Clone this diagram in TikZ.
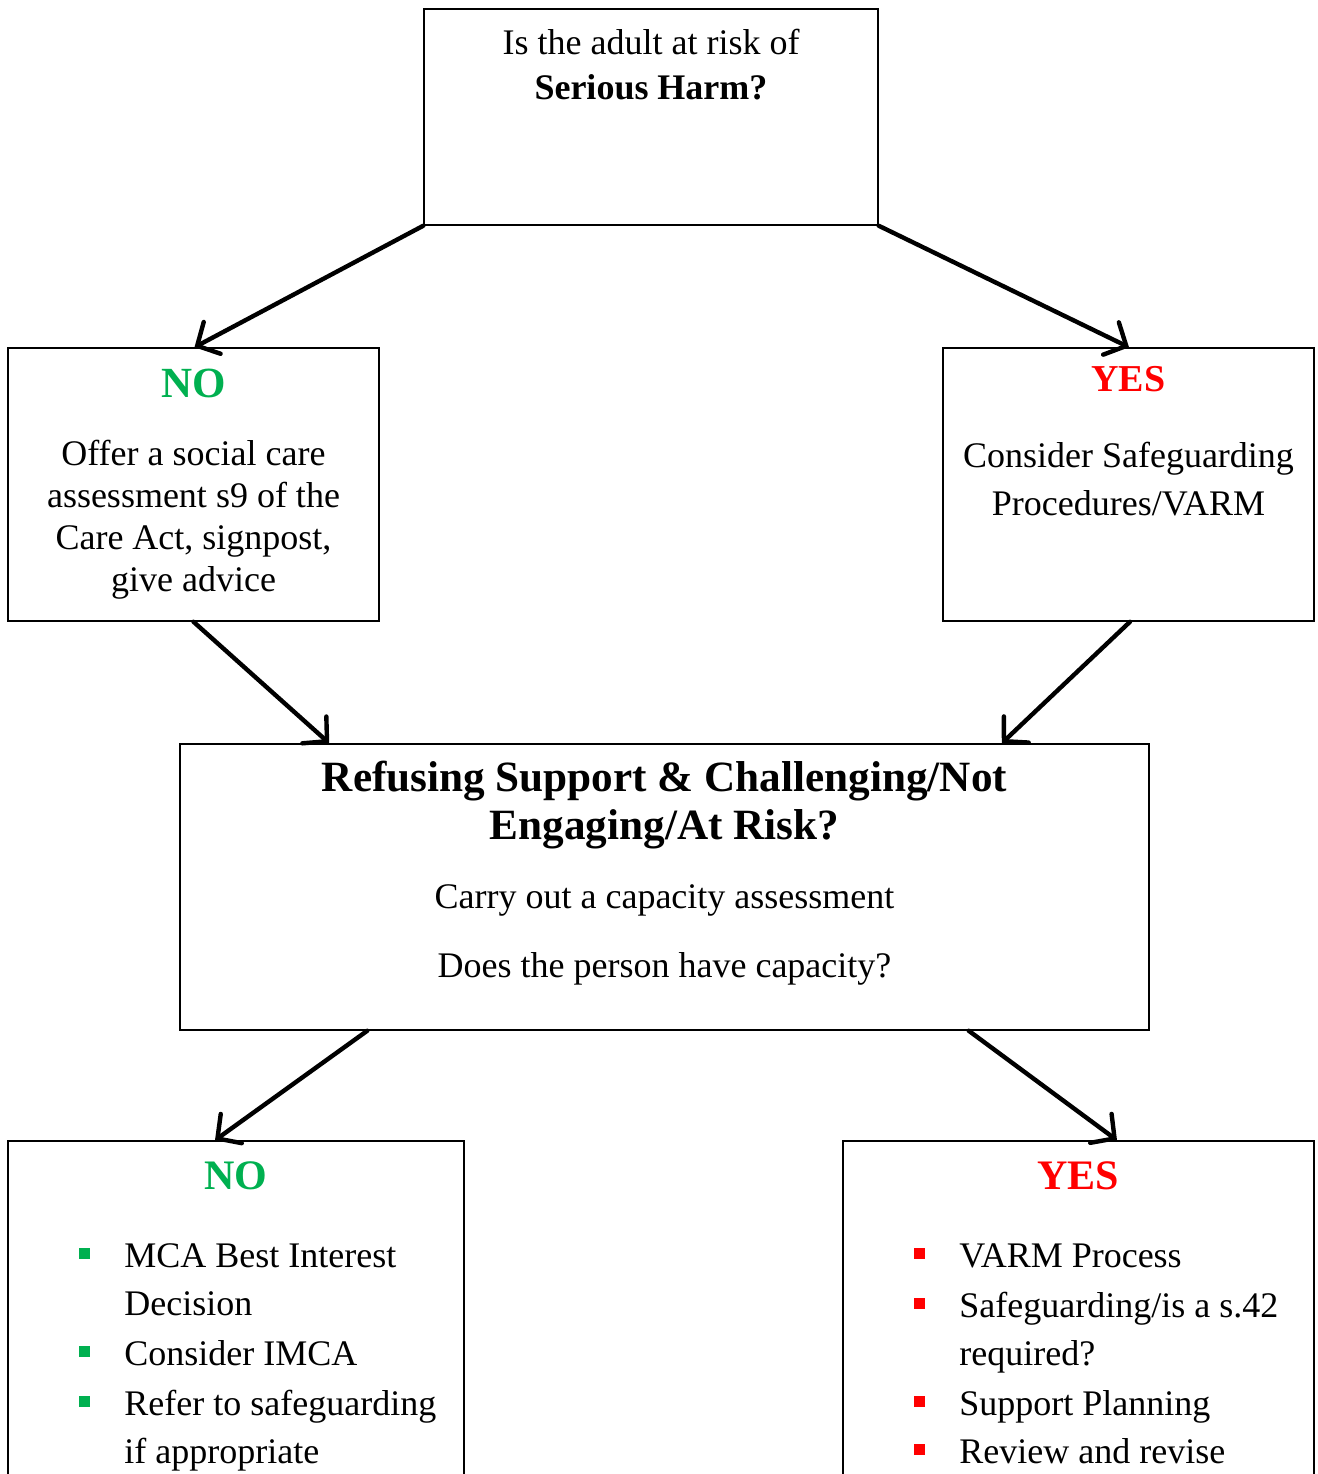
\documentclass[tikz,border=0pt]{standalone}
\usepackage{fontspec}
\setmainfont{Liberation Serif}
\usetikzlibrary{arrows.meta}
\definecolor{nogreen}{RGB}{0,176,80}
\definecolor{yesred}{RGB}{255,0,0}
\tikzset{
  box/.style={draw, line width=0.75pt, rectangle, inner sep=0pt},
  txt/.style={inner sep=0pt, anchor=base, align=center, font=\fontsize{18}{24}\selectfont},
  head/.style={inner sep=0pt, anchor=base, font=\fontsize{21}{24}\selectfont\bfseries},
  itm/.style={inner sep=0pt, anchor=base west, align=left, font=\fontsize{18}{24}\selectfont},
  sq/.style={inner sep=0pt, minimum size=5.5pt, rectangle},
  flow/.style={line width=2.2pt, line cap=round, -{Straight Barb[length=8.5pt,width=18pt,line cap=round]}}
}
\begin{document}
\begin{tikzpicture}[x=0.5pt,y=-0.5pt]
  \useasboundingbox (0,0) rectangle (1318,1474);
  \clip (0,0) rectangle (1318,1474);

  % Question box at top (multi-line texts sit on their last baseline)
  \node[box, minimum width=227pt, minimum height=108pt] (harm) at (651,117) {};
  \node[txt, font=\fontsize{18}{22.5}\selectfont] (harmq) at (651,99) {Is the adult at risk of\\\textbf{Serious Harm?}};

  % First NO box
  \node[box, minimum width=185.5pt, minimum height=136.5pt] (no) at (193.5,484.5) {};
  \node[head, text=nogreen, font=\fontsize{21.5}{24}\selectfont\bfseries] (nohead) at (193.5,397) {NO};
  \node[txt, font=\fontsize{18}{21}\selectfont] (notxt) at (193.5,591) {Offer a social care\\assessment s9 of the\\Care Act, signpost,\\give advice};

  % First YES box
  \node[box, minimum width=185.5pt, minimum height=136.5pt] (yes) at (1128.5,484.5) {};
  \node[head, text=yesred, font=\fontsize{19}{24}\selectfont\bfseries] (yeshead) at (1128.5,391) {YES};
  \node[txt] (yestxt) at (1128.5,515) {Consider Safeguarding\\Procedures/VARM};

  % Capacity box
  \node[box, minimum width=484.5pt, minimum height=143pt] (cap) at (664.5,887) {};
  \node[head, align=center, font=\fontsize{21.6}{24}\selectfont\bfseries] (caphead) at (664.5,839) {Refusing Support \& Challenging/Not\\Engaging/At Risk?};
  \node[txt] (capa) at (664.5,908) {Carry out a capacity assessment};
  \node[txt] (capb) at (664.5,977) {Does the person have capacity?};

  % Second NO box
  \node[box, minimum width=228pt, minimum height=189.5pt] (nocap) at (236,1330.5) {};
  \node[head, text=nogreen] (nocaphead) at (236,1189) {NO};
  \node[sq, fill=nogreen] (nb1) at (84.5,1253) {};
  \node[sq, fill=nogreen] (nb2) at (84.5,1351) {};
  \node[sq, fill=nogreen] (nb3) at (84.5,1401) {};
  \node[itm] (ni1) at (124,1315) {MCA Best Interest\\Decision};
  \node[itm] (ni2) at (124,1365) {Consider IMCA};
  \node[itm] (ni3) at (124,1463) {Refer to safeguarding\\if appropriate};

  % Second YES box
  \node[box, minimum width=235.5pt, minimum height=189.5pt] (yescap) at (1078.5,1330.5) {};
  \node[head, text=yesred] (yescaphead) at (1078.5,1189) {YES};
  \node[sq, fill=yesred] (yb1) at (919.5,1253) {};
  \node[sq, fill=yesred] (yb2) at (919.5,1303) {};
  \node[sq, fill=yesred] (yb3) at (919.5,1401) {};
  \node[sq, fill=yesred] (yb4) at (919.5,1449) {};
  \node[itm] (yi1) at (959,1267) {VARM Process};
  \node[itm] (yi2) at (959,1365) {Safeguarding/is a s.42\\required?};
  \node[itm] (yi3) at (959,1415) {Support Planning};
  \node[itm] (yi4) at (959,1463) {Review and revise};

  % Arrows
  \draw[flow] (harm.south west) -- ([xshift=0.5pt]no.north);
  \draw[flow] (harm.south east) -- ([xshift=0.25pt]yes.north);
  \draw[flow] (no.south) -- ([xshift=75pt]cap.north west);
  \draw[flow] ([xshift=0.75pt]yes.south) -- ([xshift=-74pt]cap.north east);
  \draw[flow] ([xshift=94pt]cap.south west) -- ([xshift=-10.5pt]nocap.north);
  \draw[flow] ([xshift=-90.5pt]cap.south east) -- ([xshift=19.25pt]yescap.north);
\end{tikzpicture}
\end{document}
